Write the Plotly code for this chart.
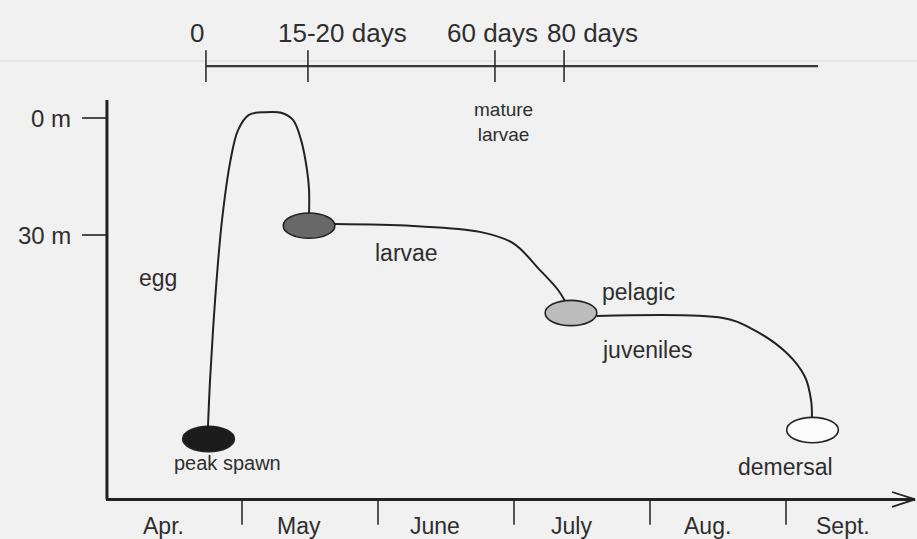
import plotly.graph_objects as go

# ---------------- data ----------------
# x unit: months after 1 April ; y unit: depth (m)
month_labels = ["Apr.", "May", "June", "July", "Aug.", "Sept."]
month_starts = [0, 1, 2, 3, 4, 5]
month_label_offset = 0.42

depth_ticks = [0, 30]
depth_tick_labels = ["0 m", "30 m"]

# top timeline (days since spawning), positioned on the month scale
day_tick_pos = [0.735, 1.485, 2.860, 3.368]
day_labels = ["0", "15-20 days", "60 days", "80 days"]
day_label_pos = [0.669, 1.739, 2.84, 3.58]
timeline_end = 5.235

# life stages (ellipse centres)
stage_names = ["peak spawn", "larvae", "pelagic juveniles", "demersal"]
stage_month = [0.754, 1.493, 3.419, 5.195]
stage_depth = [82.3, 27.6, 50.0, 80.0]
stage_fill = ["#1c1c1c", "#686868", "#bcbcbc", "#fbfbfb"]

# vertical migration path segments
egg_month = [0.750, 0.765, 0.787, 0.816, 0.853, 0.912, 0.971, 1.051, 1.169, 1.294, 1.375, 1.434, 1.478, 1.493, 1.493]
egg_depth = [79.0, 67.2, 54.4, 40.3, 26.2, 11.5, 3.1, -0.8, -1.5, -1.3, 0.5, 5.6, 13.3, 18.5, 24.4]

larvae_month = [1.684, 2.257, 2.750, 2.993, 3.191, 3.324, 3.375]
larvae_depth = [27.2, 27.7, 29.2, 32.1, 39.0, 44.1, 46.9]

juv_month = [3.610, 4.537, 4.735, 5.007, 5.140, 5.184, 5.191]
juv_depth = [50.8, 51.3, 53.8, 60.3, 66.4, 72.3, 76.7]

# ---------------- style / scale ----------------
PX_PER_MONTH = 136.0
PX_PER_M = 3.9
X0_PX, Y0_PX = 106.0, 118.0
W, H = 917, 539
xr = [-X0_PX / PX_PER_MONTH, (W - X0_PX) / PX_PER_MONTH]
yr = [(H - Y0_PX) / PX_PER_M, -Y0_PX / PX_PER_M]

BG = "#f1f1f1"
INK = "#222222"
TXT = "#2e2e2e"
FONT = "Liberation Sans, Arial, Helvetica, sans-serif"

ell_w = 0.38   # months
ell_h = 6.5    # m

axis_depth = 97.8
axis_end = 5.949
ytop = -4.6

fig = go.Figure()

for mx, dy in [(egg_month, egg_depth), (larvae_month, larvae_depth), (juv_month, juv_depth)]:
    fig.add_trace(go.Scatter(x=mx, y=dy, mode="lines",
                             line=dict(color=INK, width=2, shape="spline", smoothing=1.0),
                             hoverinfo="skip", showlegend=False))

shapes = []
# faint scan line
shapes.append(dict(type="line", x0=xr[0], x1=xr[1], y0=-14.6, y1=-14.6,
                   line=dict(color="#dadada", width=1), layer="below"))
# y axis and x axis
shapes.append(dict(type="line", x0=0.007, x1=0.007, y0=ytop, y1=axis_depth,
                   line=dict(color=INK, width=3)))
shapes.append(dict(type="line", x0=0.0, x1=axis_end, y0=axis_depth, y1=axis_depth,
                   line=dict(color=INK, width=3)))
# arrow head (open)
shapes.append(dict(type="line", x0=5.78, x1=axis_end, y0=95.9, y1=axis_depth, line=dict(color=INK, width=1.8)))
shapes.append(dict(type="line", x0=5.78, x1=axis_end, y0=99.7, y1=axis_depth, line=dict(color=INK, width=1.8)))
# month ticks
for m in month_starts[1:]:
    shapes.append(dict(type="line", x0=m, x1=m, y0=axis_depth, y1=104.3,
                       line=dict(color=INK, width=1.5)))
# depth ticks
for d in depth_ticks:
    shapes.append(dict(type="line", x0=-0.176, x1=0.007, y0=d, y1=d,
                       line=dict(color=INK, width=1.6)))
# top timeline
shapes.append(dict(type="line", x0=day_tick_pos[0], x1=timeline_end, y0=-13.3, y1=-13.3,
                   line=dict(color="#3a3a3a", width=2.4)))
for p in day_tick_pos:
    shapes.append(dict(type="line", x0=p, x1=p, y0=-17.4, y1=-9.2,
                       line=dict(color=INK, width=1.5)))
# stage ellipses
for cx, cy, fc in zip(stage_month, stage_depth, stage_fill):
    shapes.append(dict(type="circle", x0=cx - ell_w / 2, x1=cx + ell_w / 2,
                       y0=cy - ell_h / 2, y1=cy + ell_h / 2,
                       fillcolor=fc, line=dict(color=INK, width=1.6), layer="above"))

ann = []
def txt(x, y, s, size, xanchor="center"):
    ann.append(dict(x=x, y=y, text=s, showarrow=False, xanchor=xanchor, yanchor="middle",
                    font=dict(family=FONT, size=size, color=TXT)))

for m, lab in zip(month_starts, month_labels):
    txt(m + month_label_offset, 104.5, lab, 23)
for d, lab in zip(depth_ticks, depth_tick_labels):
    txt(-0.243, d, lab, 24, "right")
for p, lab in zip(day_label_pos, day_labels):
    txt(p, -21.8, lab, 26)

txt(0.382, 41.0, "egg", 23)
txt(2.213, 34.6, "larvae", 23)
txt(3.632, 44.6, "pelagic", 23, "left")
txt(3.632, 59.5, "juveniles", 23, "left")
txt(4.993, 89.5, "demersal", 23)
txt(0.897, 88.5, "peak spawn", 20)
txt(2.691, 1.0, "mature<br>larvae", 19, "left")

fig.update_layout(
    width=W, height=H,
    margin=dict(l=0, r=0, t=0, b=0),
    paper_bgcolor=BG, plot_bgcolor=BG,
    xaxis=dict(range=xr, visible=False, fixedrange=True),
    yaxis=dict(range=yr, visible=False, fixedrange=True),
    shapes=shapes, annotations=ann, showlegend=False,
)

fig.write_html("out.html", config={"displayModeBar": False},
               post_script="document.body.style.margin='0';document.body.style.background='#f1f1f1';")
